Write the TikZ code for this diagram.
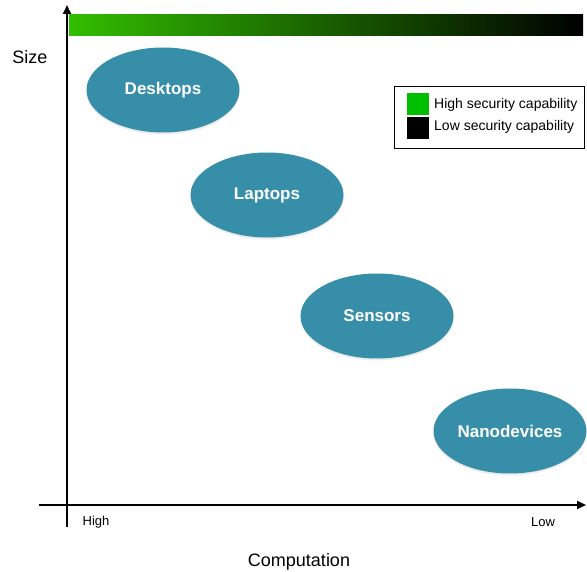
\documentclass[tikz,border=0pt]{standalone}
\usepackage{fontspec}
\setmainfont{Liberation Sans}
\usetikzlibrary{shapes.geometric,arrows.meta,shadows}

\definecolor{devteal}{RGB}{54,142,168}
\definecolor{secgreen}{RGB}{0,190,0}
\definecolor{bargreen}{RGB}{50,190,0}

\begin{document}
\begin{tikzpicture}[x=1pt,y=1pt]
    \tikzstyle{device}=[ellipse, fill=devteal, text=white, font=\fontsize{17}{20}\selectfont\bfseries,
                        minimum width=153, minimum height=85, inner sep=0,
                        drop shadow={opacity=0.15, shadow xshift=0pt, shadow yshift=-2pt}]
    \tikzstyle{axis}=[line width=2.2pt, -{Triangle[length=9pt,width=8pt]}]
    \tikzstyle{legendbox}=[minimum width=22, minimum height=22, inner sep=0]
    \useasboundingbox (0,0) rectangle (587,571);

    % axes
    \coordinate (ybot) at (67,44);
    \coordinate (ytop) at (67,566);
    \coordinate (xleft) at (39,66);
    \coordinate (xright) at (586,66);
    \draw[axis] (ybot) -- (ytop);
    \draw[axis] (xleft) -- (xright);

    % security bar along the top
    \shade[left color=bargreen, right color=black] (69,535) rectangle (583,556);

    % axis labels
    \node[font=\fontsize{18}{20}\selectfont] (size) at (30,514) {Size};
    \node[font=\fontsize{18}{20}\selectfont] (comp) at (299,9) {Computation};
    \node[font=\fontsize{13}{15}\selectfont] (high) at (96,49) {High};
    \node[font=\fontsize{13}{15}\selectfont] (low) at (543,49) {Low};

    % devices
    \node[device] (desk) at (163,481) {Desktops};
    \node[device] (lap) at (267,376) {Laptops};
    \node[device] (sens) at (377,255) {Sensors};
    \node[device] (nano) at (510,140) {Nanodevices};

    % legend
    \draw[line width=0.8pt] (394,423) rectangle (584,485);
    \node[legendbox, fill=secgreen] (hisq) at (418,467) {};
    \node[legendbox, fill=black] (losq) at (418,443) {};
    \node[anchor=west, font=\fontsize{14}{16}\selectfont, inner sep=0] (hitxt) at (434,466) {High security capability};
    \node[anchor=west, font=\fontsize{14}{16}\selectfont, inner sep=0] (lotxt) at (434,444) {Low security capability};
\end{tikzpicture}
\end{document}
